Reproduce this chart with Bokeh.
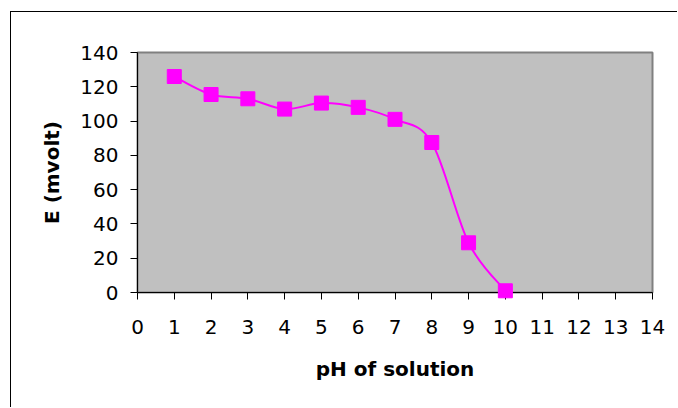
from bokeh.plotting import figure
from bokeh.models import Range1d, FixedTicker
from bokeh.embed import file_html
from bokeh.resources import INLINE

# data
ph = [1, 2, 3, 4, 5, 6, 7, 8, 9, 10]
e_mv = [126, 115.5, 113, 107, 110.5, 108, 101, 87.5, 29, 1]
x_ticks = list(range(0, 15))
y_ticks = list(range(0, 141, 20))

FONT = "DejaVu Sans"
MAGENTA = "#FF00FF"

# figure is offset by its margin; the left/top CSS border is the chart's outer frame
p = figure(width=667, height=396, output_backend="svg", toolbar_location=None,
           x_range=Range1d(0, 14), y_range=Range1d(0, 140),
           min_border_left=126, min_border_right=26, min_border_top=40, min_border_bottom=116)
p.margin = (11, 0, 0, 10)
p.styles = {"border-left": "1px solid black", "border-top": "1px solid black"}
p.background_fill_color = "#C0C0C0"
p.border_fill_color = "white"
p.outline_line_color = "#808080"
p.outline_line_width = 2
p.xgrid.visible = False
p.ygrid.visible = False

for ax, ticks in ((p.xaxis[0], x_ticks), (p.yaxis[0], y_ticks)):
    ax.ticker = FixedTicker(ticks=ticks)
    ax.minor_tick_line_color = None
    ax.major_tick_in = 0
    ax.major_tick_out = 7
    ax.axis_line_color = "black"
    ax.major_tick_line_color = "black"
    ax.major_label_text_font = FONT
    ax.major_label_text_font_size = "20px"
    ax.major_label_text_color = "black"
    ax.axis_label_text_font = FONT
    ax.axis_label_text_font_style = "bold"
    ax.axis_label_text_font_size = "20px"
    ax.axis_label_text_color = "black"

p.xaxis.axis_label = "pH of solution"
p.yaxis.axis_label = "E (mvolt)"
p.xaxis.major_label_standoff = 20
p.yaxis.major_label_standoff = 12
p.xaxis.axis_label_standoff = 20
p.yaxis.axis_label_standoff = 13

# smoothed line (Catmull-Rom style Bezier segments, as in a spreadsheet "smoothed line")
n = len(ph)
x0, y0, x1, y1, cx0, cy0, cx1, cy1 = [], [], [], [], [], [], [], []
for i in range(n - 1):
    pa = i - 1 if i > 0 else i
    pd = i + 2 if i + 2 < n else i + 1
    x0.append(ph[i]); y0.append(e_mv[i])
    x1.append(ph[i + 1]); y1.append(e_mv[i + 1])
    cx0.append(ph[i] + (ph[i + 1] - ph[pa]) / 6.0)
    cy0.append(e_mv[i] + (e_mv[i + 1] - e_mv[pa]) / 6.0)
    cx1.append(ph[i + 1] - (ph[pd] - ph[i]) / 6.0)
    cy1.append(e_mv[i + 1] - (e_mv[pd] - e_mv[i]) / 6.0)

p.bezier(x0=x0, y0=y0, x1=x1, y1=y1, cx0=cx0, cy0=cy0, cx1=cx1, cy1=cy1,
         line_color=MAGENTA, line_width=2)
p.scatter(ph, e_mv, marker="square", size=14, fill_color=MAGENTA,
          line_color=MAGENTA, level="overlay")

open("out.html", "w").write(file_html(p, INLINE))
